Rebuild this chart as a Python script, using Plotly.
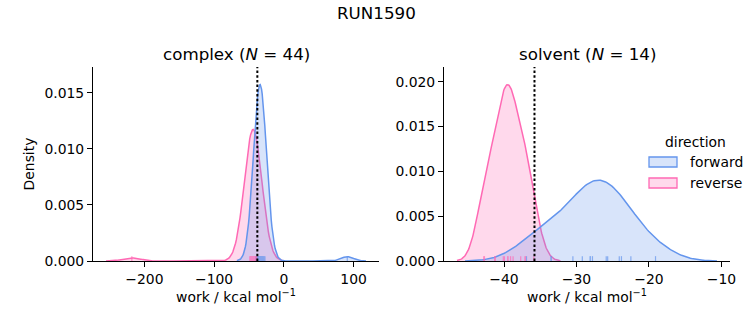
import numpy as np
import plotly.graph_objects as go

# ---- data -----------------------------------------------------------------
SUPTITLE = "RUN1590"
PHASES = ["complex", "solvent"]
PHASE_N = [44, 14]
DIRECTIONS = ["forward", "reverse"]
COLORS = {"forward": "#6495ED", "reverse": "#FF69B4"}
FILLS = {"forward": "rgba(100,149,237,0.25)", "reverse": "rgba(255,105,180,0.25)"}

# nonequilibrium work values (kcal/mol)
complex_forward = [
    -40.5, -39.6, -38.9, -38.3, -37.8, -37.3, -36.9, -36.5, -36.2, -35.9,
    -35.7, -35.5, -35.3, -35.1, -34.9, -34.7, -34.6, -34.5, -34.4, -34.3,
    -34.2, -34.1, -34.0, -33.9, -33.7, -33.5, -33.3, -33.1, -32.9, -32.6,
    -32.3, -32.0, -31.6, -31.2, -30.7, -30.2, -29.6, -28.9, -28.1, -27.1,
    -34.8, -34.4, -33.8, 91.0,
]
complex_reverse = [
    -48.6, -48.2, -47.8, -47.5, -47.2, -46.9, -46.6, -46.4, -46.1, -45.9,
    -45.7, -45.5, -45.3, -45.1, -44.9, -44.7, -44.5, -44.3, -44.1, -43.9,
    -43.7, -43.5, -43.3, -43.1, -42.9, -42.6, -42.4, -42.1, -41.8, -41.5,
    -41.2, -40.9, -40.6, -40.2, -39.8, -39.4, -38.9, -45.2, -45.6, -44.4,
    -46.7, -43.4, -41.6, -218.0,
]
solvent_forward = [
    -36.9, -33.5, -33.5, -30.5, -29.2, -28.1, -28.1, -27.8, -25.9, -25.7,
    -24.1, -23.8, -22.5, -19.1,
]
solvent_reverse = [
    -42.8, -42.7, -41.3, -41.2, -40.1, -39.95, -39.5, -39.45, -39.1, -38.75,
    -37.7, -37.1, -37.05, -35.9,
]
WORK = {
    ("complex", "forward"): complex_forward,
    ("complex", "reverse"): complex_reverse,
    ("solvent", "forward"): solvent_forward,
    ("solvent", "reverse"): solvent_reverse,
}
# free energy estimate per phase (dotted line)
free_energy = [-38.0, -35.8]

X_TICKS = [[-200, -100, 0, 100], [-40, -30, -20, -10]]
Y_TICKS = [[0.0, 0.005, 0.010, 0.015], [0.0, 0.005, 0.010, 0.015, 0.020]]

FONT = "DejaVu Sans"
W, H = 753, 325


def kde_curve(values, gridsize=200, cut=3):
    """Gaussian KDE with Scott's bandwidth, evaluated on its own support."""
    v = np.asarray(values, dtype=float)
    n = v.size
    bw = v.std(ddof=1) * n ** (-1 / 5)
    grid = np.linspace(v.min() - cut * bw, v.max() + cut * bw, gridsize)
    z = (grid[:, None] - v[None, :]) / bw
    dens = np.exp(-0.5 * z ** 2).sum(axis=1) / (n * bw * np.sqrt(2 * np.pi))
    return grid, dens


# densities share one normalisation across every series
n_all = sum(len(v) for v in WORK.values())

fig = go.Figure()

x_domains = [(93 / W, 379 / W), (444 / W, 730 / W)]
y_domain = (1 - 261 / H, 1 - 67 / H)

for i, phase in enumerate(PHASES):
    xa = "x" if i == 0 else "x2"
    ya = "y" if i == 0 else "y2"
    curves = {}
    for d in DIRECTIONS:
        vals = WORK[(phase, d)]
        g, dens = kde_curve(vals)
        curves[d] = (g, dens * len(vals) / n_all)

    lo = min(c[0].min() for c in curves.values())
    hi = max(c[0].max() for c in curves.values())
    span = hi - lo
    x_range = [lo - 0.05 * span, hi + 0.05 * span]
    y_top = 1.1 * max(c[1].max() for c in curves.values())

    # reverse drawn first, forward on top
    for d in reversed(DIRECTIONS):
        g, dens = curves[d]
        fig.add_trace(go.Scatter(
            x=g, y=dens, mode="lines", fill="tozeroy",
            fillcolor=FILLS[d], line=dict(color=COLORS[d], width=1.5),
            xaxis=xa, yaxis=ya, showlegend=False, hoverinfo="skip",
        ))

    # rug ticks
    rug_h = 0.025 * y_top
    for d in DIRECTIONS:
        rx, ry = [], []
        for v in WORK[(phase, d)]:
            rx += [v, v, None]
            ry += [0, rug_h, None]
        fig.add_trace(go.Scatter(
            x=rx, y=ry, mode="lines", line=dict(color=COLORS[d], width=1.2),
            opacity=0.7, xaxis=xa, yaxis=ya, showlegend=False, hoverinfo="skip",
        ))

    fig.add_shape(type="line", xref=xa, yref=f"{ya} domain",
                  x0=free_energy[i], x1=free_energy[i], y0=0, y1=1,
                  line=dict(color="black", width=2, dash="2.5px,2.2px"))

    axis_common = dict(
        showgrid=False, zeroline=False, showline=True, linecolor="black",
        linewidth=1, ticks="outside", ticklen=5, tickwidth=1, tickcolor="black",
        tickfont=dict(family=FONT, size=13.9, color="black"), automargin=False,
    )
    xaxis = dict(
        axis_common, domain=x_domains[i], range=x_range, anchor=ya,
        tickvals=X_TICKS[i],
        title=dict(text="work / kcal mol<sup>−1</sup>", standoff=6,
                   font=dict(family=FONT, size=13.9, color="black")),
    )
    yaxis = dict(
        axis_common, domain=y_domain, range=[0, y_top], anchor=xa,
        tickvals=Y_TICKS[i], tickformat=".3f",
    )
    if i == 0:
        yaxis["title"] = dict(text="Density", standoff=6,
                              font=dict(family=FONT, size=13.9, color="black"))
    fig.layout[f"xaxis{'' if i == 0 else '2'}"] = xaxis
    fig.layout[f"yaxis{'' if i == 0 else '2'}"] = yaxis

    xc = (x_domains[i][0] + x_domains[i][1]) / 2
    fig.add_annotation(
        text=f"{phase} (<i>N</i> = {PHASE_N[i]})", xref="paper", yref="paper",
        x=xc, y=1 - 54 / H, showarrow=False, xanchor="center", yanchor="middle",
        font=dict(family=FONT, size=16.7, color="black"),
    )

fig.add_annotation(
    text=SUPTITLE, xref="paper", yref="paper", x=0.5, y=1 - 13 / H,
    showarrow=False, xanchor="center", yanchor="middle",
    font=dict(family=FONT, size=16.7, color="black"),
)

# legend
fig.add_annotation(
    text="direction", xref="paper", yref="paper", x=695 / W, y=1 - 142 / H,
    showarrow=False, xanchor="center", yanchor="middle",
    font=dict(family=FONT, size=13.9, color="black"),
)
for k, d in enumerate(DIRECTIONS):
    yc = 162 + 21 * k
    fig.add_shape(type="rect", xref="paper", yref="paper",
                  x0=649 / W, x1=677 / W, y0=1 - (yc + 5) / H, y1=1 - (yc - 5) / H,
                  fillcolor=FILLS[d], line=dict(color=COLORS[d], width=1.3))
    fig.add_annotation(
        text=d, xref="paper", yref="paper", x=688 / W, y=1 - yc / H,
        showarrow=False, xanchor="left", yanchor="middle",
        font=dict(family=FONT, size=13.9, color="black"),
    )

fig.update_layout(
    width=W, height=H, margin=dict(l=0, r=0, t=0, b=0),
    paper_bgcolor="white", plot_bgcolor="white", showlegend=False,
)

fig.write_html("out.html")
